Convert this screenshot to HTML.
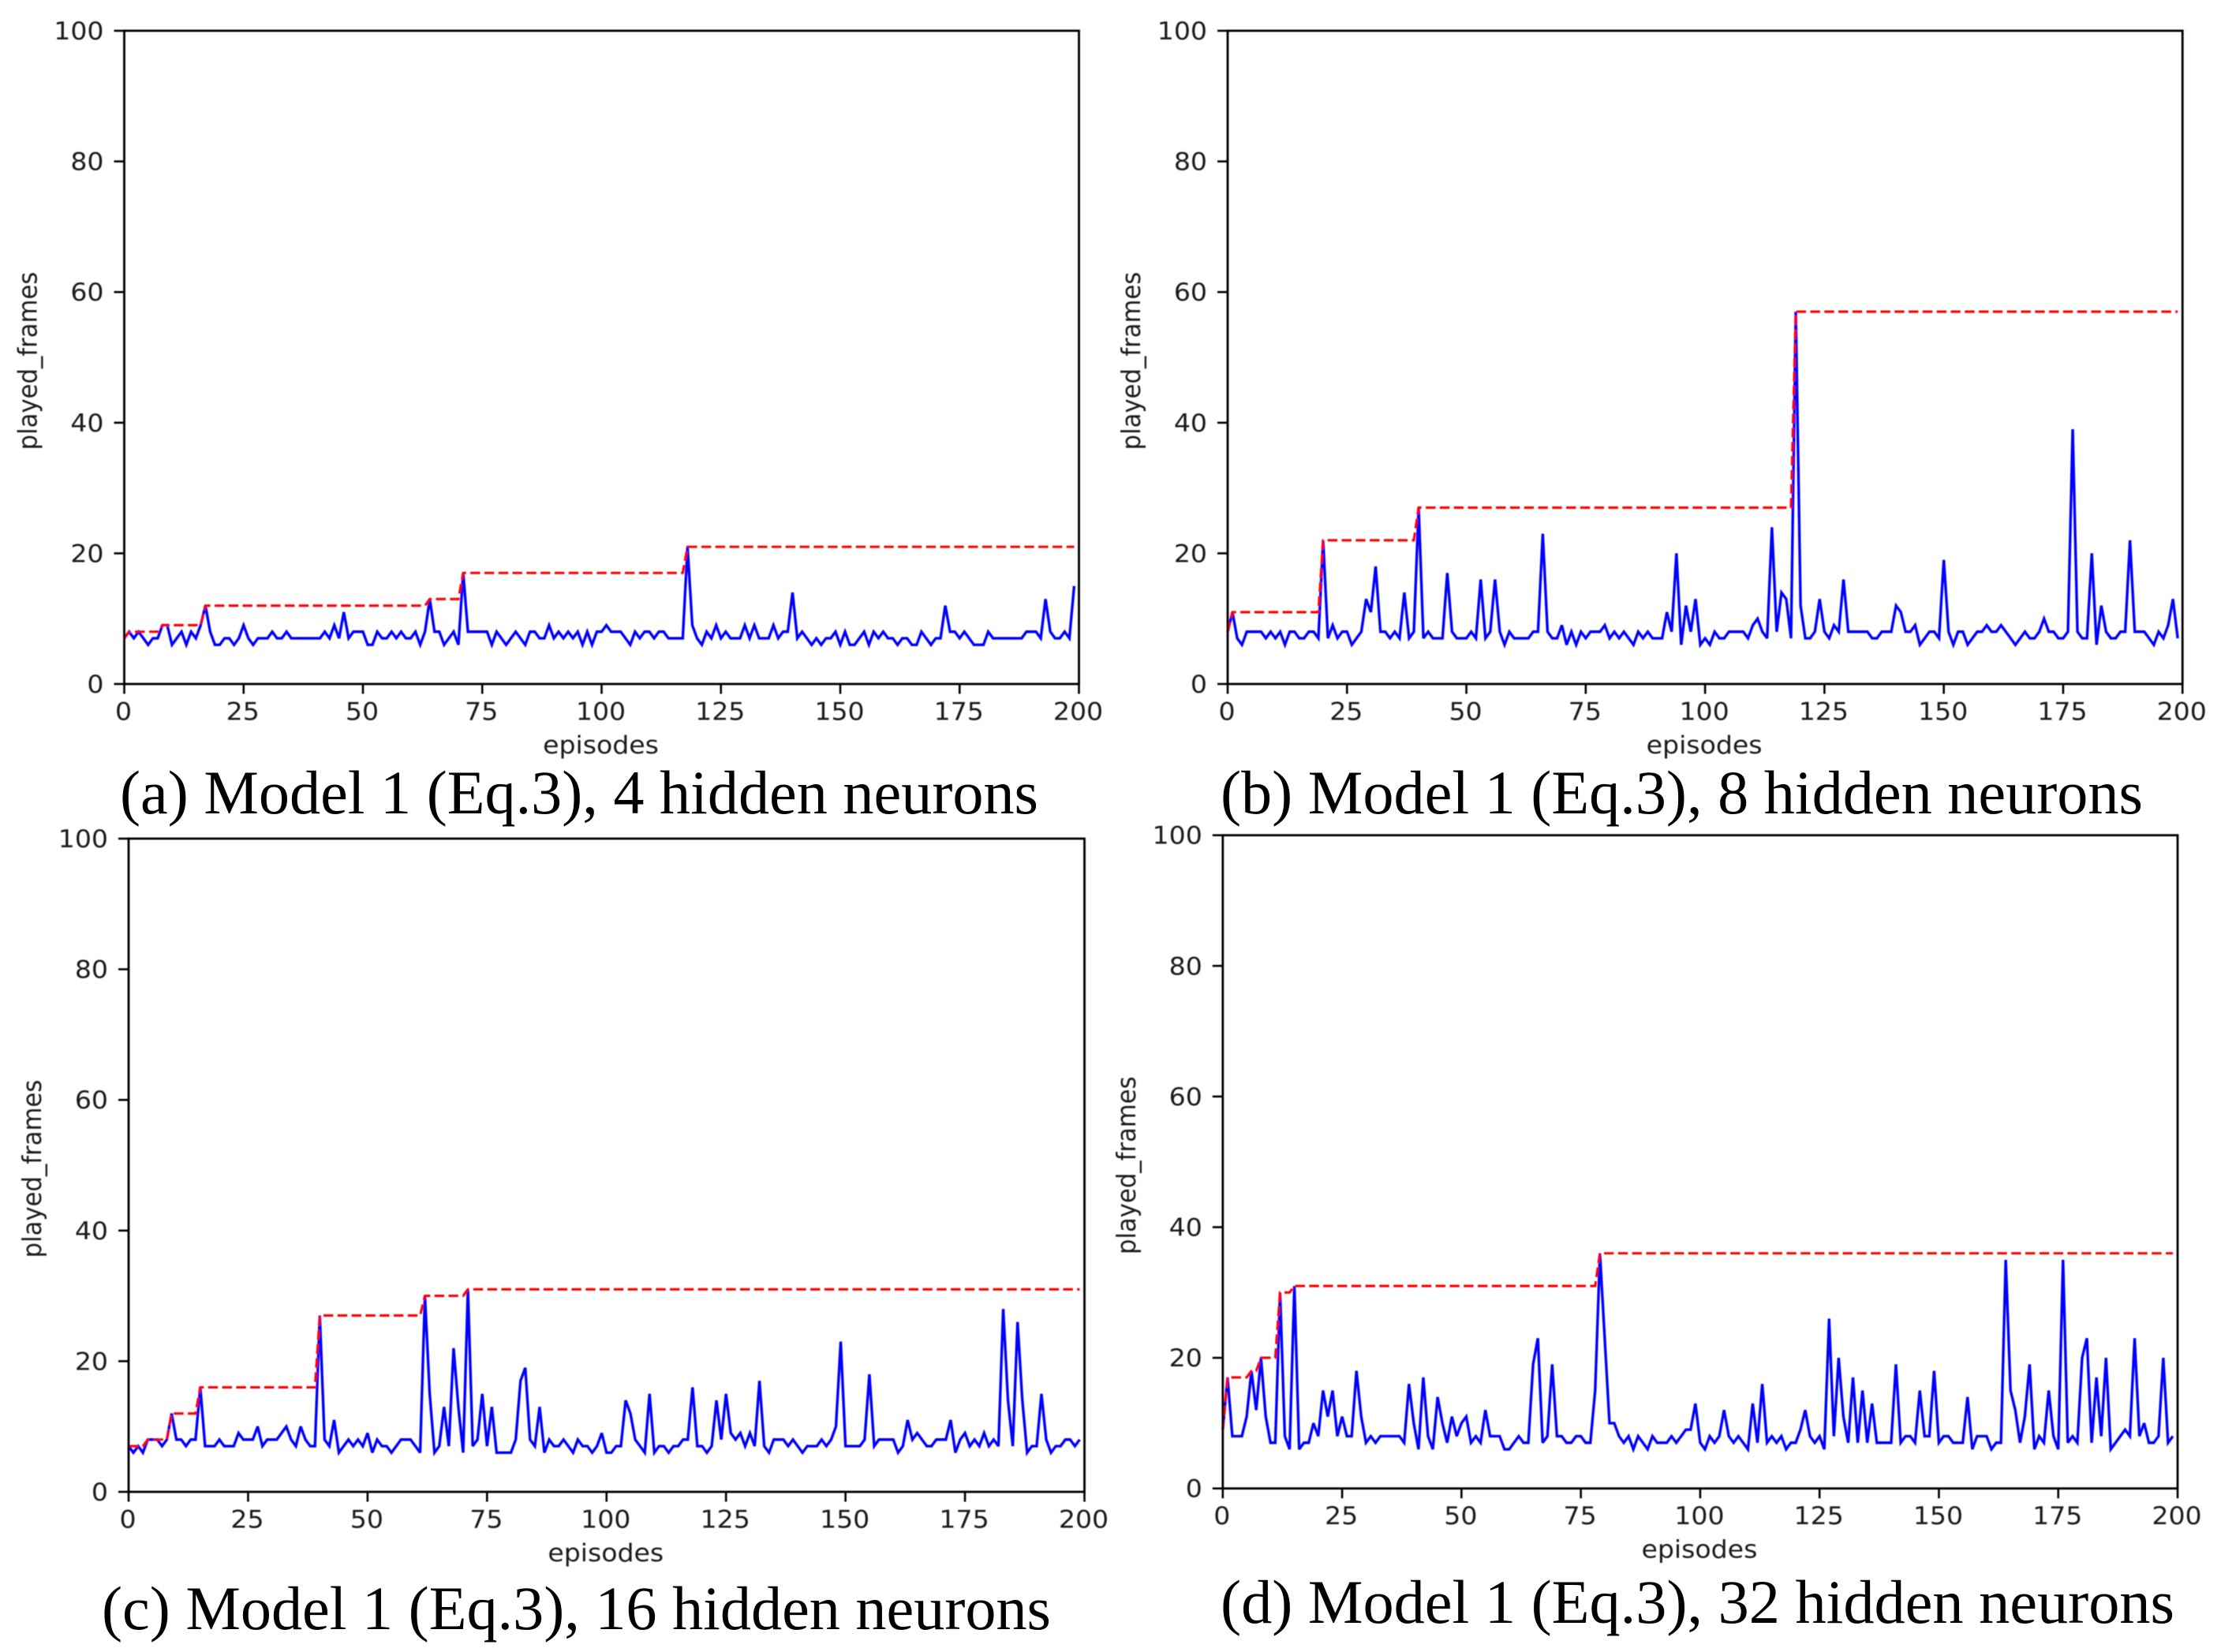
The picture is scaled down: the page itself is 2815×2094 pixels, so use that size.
<!DOCTYPE html>
<html lang="en">
<head>
<meta charset="utf-8">
<title>Model 1 played frames by hidden neurons</title>
<style>
html,body{margin:0;padding:0;background:#fff;}
svg{display:block;}
.tick{font-family:"DejaVu Sans",sans-serif;font-size:30.7px;fill:#1a1a1a;}
.cap{font-family:"Liberation Serif",serif;font-size:78px;fill:#000;}
</style>
</head>
<body>
<svg id="figure" xmlns="http://www.w3.org/2000/svg" width="2815" height="2094" viewBox="0 0 2815 2094">
<defs><filter id="soft" x="0" y="0" width="100%" height="100%"><feGaussianBlur stdDeviation="0.6"/></filter></defs>
<rect width="2815" height="2094" fill="#fff"/>
<g id="plots" filter="url(#soft)"></g>
<text class="cap" x="152" y="1031" textLength="1164" lengthAdjust="spacingAndGlyphs">(a) Model 1 (Eq.3), 4 hidden neurons</text>
<text class="cap" x="1547" y="1031" textLength="1169" lengthAdjust="spacingAndGlyphs">(b) Model 1 (Eq.3), 8 hidden neurons</text>
<text class="cap" x="129" y="2065" textLength="1203" lengthAdjust="spacingAndGlyphs">(c) Model 1 (Eq.3), 16 hidden neurons</text>
<text class="cap" x="1547" y="2057" textLength="1209" lengthAdjust="spacingAndGlyphs">(d) Model 1 (Eq.3), 32 hidden neurons</text>
</svg>
<script>
const xTickLabels = [0,25,50,75,100,125,150,175,200];
const yTickLabels = [0,20,40,60,80,100];
const xAxisTitle = 'episodes';
const yAxisTitle = 'played_frames';

const playedA = [7,8,7,8,7,6,7,7,9,9,6,7,8,6,8,7,9,12,8,6,6,7,7,6,7,9,7,6,7,7,7,8,7,7,8,7,7,7,7,7,7,7,8,7,9,7,11,7,8,8,8,6,6,8,7,7,8,7,8,7,7,8,6,8,13,8,8,6,7,8,6,17,8,8,8,8,8,6,8,7,6,7,8,7,6,8,8,7,7,9,7,8,7,8,7,8,6,8,6,8,8,9,8,8,8,7,6,8,7,8,8,7,8,8,7,7,7,7,21,9,7,6,8,7,9,7,8,7,7,7,9,7,9,7,7,7,9,7,8,8,14,7,8,7,6,7,6,7,7,8,6,8,6,6,7,8,6,8,7,8,7,7,6,7,7,6,6,8,7,6,7,7,12,8,8,7,8,7,6,6,6,8,7,7,7,7,7,7,7,8,8,8,7,13,8,7,7,8,7,15];
const recordEpisodesA = [0,1,8,17,64,71,118];
const recordValuesA = [7,8,9,12,13,17,21];

const playedB = [8,11,7,6,8,8,8,8,7,8,7,8,6,8,8,7,7,8,8,7,22,7,9,7,8,8,6,7,8,13,11,18,8,8,7,8,7,14,7,8,27,7,8,7,7,7,17,8,7,7,7,8,7,16,7,8,16,8,6,8,7,7,7,7,8,8,23,8,7,7,9,6,8,6,8,7,8,8,8,9,7,8,7,8,7,6,8,7,8,7,7,7,11,8,20,6,12,8,13,6,7,6,8,7,7,8,8,8,8,7,9,10,8,7,24,8,14,13,7,57,12,7,7,8,13,8,7,9,8,16,8,8,8,8,8,7,7,8,8,8,12,11,8,8,9,6,7,8,8,7,19,8,6,8,8,6,7,8,8,9,8,8,9,8,7,6,7,8,7,7,8,10,8,8,7,7,8,39,8,7,7,20,6,12,8,7,7,8,8,22,8,8,8,7,6,8,7,9,13,7];
const recordEpisodesB = [0,1,20,40,119];
const recordValuesB = [8,11,22,27,57];

const playedC = [7,6,7,6,8,8,8,7,8,12,8,8,7,8,8,16,7,7,7,8,7,7,7,9,8,8,8,10,7,8,8,8,9,10,8,7,10,8,7,7,27,8,7,11,6,7,8,7,8,7,9,6,8,7,7,6,7,8,8,8,7,6,30,15,6,7,13,7,22,13,6,31,7,8,15,7,13,6,6,6,6,8,17,19,8,7,13,6,8,7,7,8,7,6,8,7,7,6,7,9,6,6,7,7,14,12,8,7,6,15,6,7,7,6,7,7,8,8,16,7,7,6,7,14,8,15,9,8,9,7,9,7,17,7,6,8,8,8,7,8,7,6,7,7,7,8,7,8,10,23,7,7,7,7,8,18,7,8,8,8,8,6,7,11,8,9,8,7,7,8,8,8,11,6,8,9,7,8,7,9,7,8,7,28,14,7,26,14,6,7,7,15,8,6,7,7,8,8,7,8];
const recordEpisodesC = [0,4,9,15,40,62,71];
const recordValuesC = [7,8,12,16,27,30,31];

const playedD = [9,17,8,8,8,11,18,12,20,11,7,7,30,8,6,31,6,7,7,10,8,15,11,15,8,11,8,8,18,11,7,8,7,8,8,8,8,8,7,16,10,6,17,8,6,14,10,7,11,8,10,11,7,8,7,12,8,8,8,6,6,7,8,7,7,19,23,7,8,19,8,8,7,7,8,8,7,7,15,36,23,10,10,8,7,8,6,8,7,6,8,7,7,7,8,7,8,9,9,13,7,6,8,7,8,12,8,7,8,7,6,13,7,16,7,8,7,8,6,7,7,9,12,8,7,8,6,26,8,20,11,7,17,7,15,7,13,7,7,7,7,19,7,8,8,7,15,8,8,18,7,8,8,7,7,7,14,6,8,8,8,6,7,7,35,15,12,7,11,19,6,8,7,15,8,6,35,7,8,7,20,23,7,17,8,20,6,7,8,9,8,23,8,10,7,7,8,20,7,8];
const recordEpisodesD = [0,1,6,8,12,15,79];
const recordValuesD = [9,17,18,20,30,31,36];

const SVGNS = 'http://www.w3.org/2000/svg';
const XMAX = 200, YMAX = 100, PLOT_H = 828;
const root = document.getElementById('plots');

function make(tag, parent, attrs) {
  const node = document.createElementNS(SVGNS, tag);
  Object.keys(attrs).forEach(function (k) { node.setAttribute(k, attrs[k]); });
  parent.appendChild(node);
  return node;
}

function drawPanel(id, left, right, bottom, played, recordEpisodes, recordValues) {
  const top = bottom - PLOT_H;
  const sx = function (v) { return left + (v / XMAX) * (right - left); };
  const sy = function (v) { return bottom - (v / YMAX) * PLOT_H; };

  const g = make('g', root, {});
  
  

  const pts = played.map(function (v, i) { return sx(i).toFixed(2) + ',' + sy(v).toFixed(2); }).join(' ');
  const blue = make('polyline', g, { points: pts, fill: 'none', stroke: '#0000ff', 'stroke-width': 3.4, 'stroke-linejoin': 'miter', 'stroke-miterlimit': 3 });
  
  

  const rp = [];
  recordEpisodes.forEach(function (ep, i) {
    const nextEp = i + 1 < recordEpisodes.length ? recordEpisodes[i + 1] - 1 : played.length - 1;
    rp.push(sx(ep).toFixed(2) + ',' + sy(recordValues[i]).toFixed(2));
    if (nextEp > ep) rp.push(sx(nextEp).toFixed(2) + ',' + sy(recordValues[i]).toFixed(2));
  });
  const red = make('polyline', g, { points: rp.join(' '), fill: 'none', stroke: '#ff0000', 'stroke-width': 3.1, 'stroke-dasharray': '12.4 5.4' });
  
  

  const frame = make('rect', g, { x: left, y: top, width: right - left, height: PLOT_H, fill: 'none', stroke: '#000', 'stroke-width': 2.8 });
  
  

  xTickLabels.forEach(function (t) {
    const x = sx(t);
    const mark = make('line', g, { x1: x, x2: x, y1: bottom, y2: bottom + 12.5, stroke: '#000', 'stroke-width': 2.6 });
    
    
    const label = make('text', g, { class: 'tick', 'text-anchor': 'middle', transform: 'translate(' + (x - 1) + ',' + (bottom + 45.5) + ') scale(1.08,1)' });
    
    
    label.textContent = t;
  });
  yTickLabels.forEach(function (t) {
    const y = sy(t);
    const mark = make('line', g, { x1: left - 13, x2: left, y1: y, y2: y, stroke: '#000', 'stroke-width': 2.6 });
    
    
    const label = make('text', g, { class: 'tick', 'text-anchor': 'end', transform: 'translate(' + (left - 26) + ',' + (y + 11) + ') scale(1.08,1)' });
    
    
    label.textContent = t;
  });

  const xt = make('text', g, { class: 'tick', 'text-anchor': 'middle', transform: 'translate(' + ((left + right) / 2 - 1) + ',' + (bottom + 88) + ') scale(1.08,1)' });
  
  
  xt.textContent = xAxisTitle;

  const yt = make('text', g, { class: 'tick', 'text-anchor': 'middle', transform: 'translate(' + (left - 111) + ',' + ((top + bottom) / 2 + 4.5) + ') scale(1.08,1) rotate(-90)' });
  
  
  yt.textContent = yAxisTitle;
}

drawPanel('a', 157.5, 1367.5, 867, playedA, recordEpisodesA, recordValuesA);
drawPanel('b', 1556, 2766.2, 867, playedB, recordEpisodesB, recordValuesB);
drawPanel('c', 163, 1374.5, 1891, playedC, recordEpisodesC, recordValuesC);
drawPanel('d', 1549.8, 2760, 1886.7, playedD, recordEpisodesD, recordValuesD);
</script>
</body>
</html>
